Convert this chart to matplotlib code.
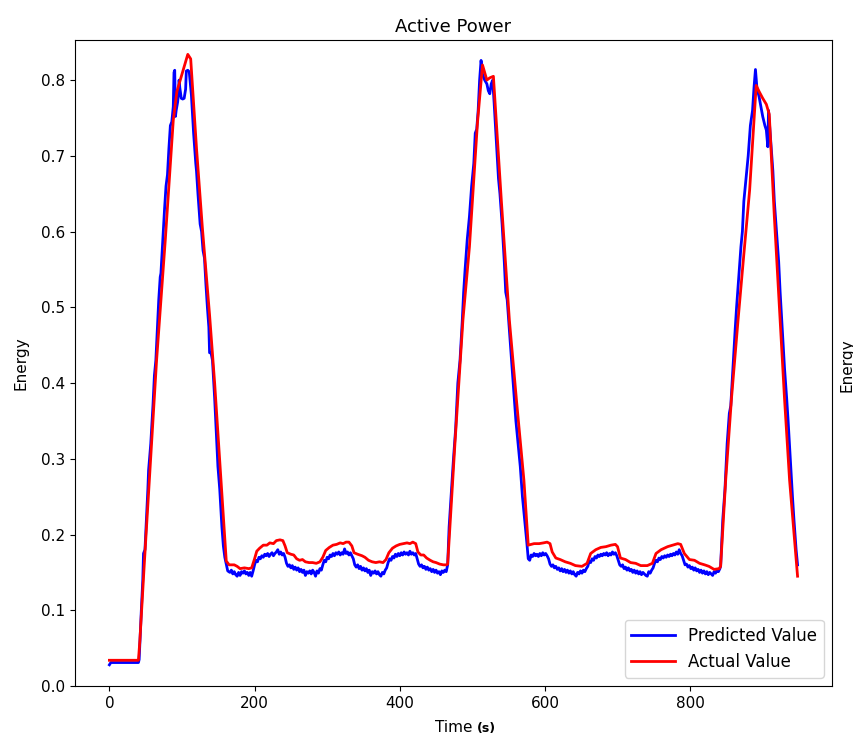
import matplotlib.pyplot as plt
import numpy as np

# Actual value (red)
t_actual = [0, 40, 42, 48, 55, 65, 77, 88, 93, 100, 108, 112, 120, 128, 138, 145, 152, 158, 161,
            165, 172, 176, 180, 186, 192, 196, 200, 203, 207, 212, 217, 221, 226, 230, 235, 239,
            242, 245, 250, 254, 258, 262, 266, 270, 275, 280, 285, 290, 294, 298, 303, 308, 313,
            318, 322, 326, 330, 334, 337, 342, 348, 352, 357, 362, 367, 372, 377, 381, 385, 390,
            395, 400, 405, 410, 414, 418, 422, 425, 429, 433, 437, 442, 446, 450, 455, 460, 464,
            466, 476, 487, 496, 507, 514, 520, 524, 529, 540, 551, 561, 571, 577,
            585, 592, 598, 603, 607, 610, 615, 621, 628, 635, 642, 651, 658, 663, 670, 677, 684,
            691, 697, 700, 704, 711, 718, 725, 732, 741, 748, 753, 760, 769, 776, 783, 787, 792,
            799, 806, 813, 820, 826, 833, 840,
            842, 849, 857, 866, 874, 882, 891, 895, 900, 905, 909, 916, 923, 930, 937, 948]
actual = [0.034, 0.034, 0.06, 0.16, 0.272, 0.43, 0.589, 0.747, 0.785, 0.808, 0.834, 0.828, 0.71,
          0.606, 0.49, 0.40, 0.298, 0.21, 0.165,
          0.160, 0.160, 0.158, 0.155, 0.156, 0.155, 0.156, 0.168, 0.178, 0.182, 0.186, 0.186,
          0.189, 0.188, 0.192, 0.193, 0.192, 0.185, 0.176, 0.174, 0.173, 0.168, 0.166, 0.167,
          0.164, 0.163, 0.163, 0.162, 0.164, 0.170, 0.179, 0.183, 0.186, 0.187, 0.189, 0.188,
          0.190, 0.190, 0.185, 0.176, 0.174, 0.172, 0.170, 0.166, 0.164, 0.163, 0.164, 0.163,
          0.167, 0.176, 0.182, 0.185, 0.187, 0.188, 0.189, 0.188, 0.190, 0.188, 0.177, 0.173,
          0.173, 0.169, 0.166, 0.164, 0.163, 0.161, 0.160, 0.160,
          0.161, 0.32, 0.483, 0.58, 0.743, 0.820, 0.800, 0.803, 0.805, 0.64, 0.483, 0.375,
          0.272, 0.186,
          0.188, 0.188, 0.189, 0.190, 0.188, 0.177, 0.169, 0.167, 0.164, 0.162, 0.159, 0.158,
          0.162, 0.175, 0.180, 0.183, 0.184, 0.186, 0.187, 0.184, 0.169, 0.167, 0.163, 0.162,
          0.159, 0.159, 0.162, 0.175, 0.180, 0.184, 0.186, 0.188, 0.187, 0.175, 0.167, 0.166,
          0.162, 0.160, 0.158, 0.154, 0.155,
          0.158, 0.272, 0.38, 0.483, 0.57, 0.655, 0.793, 0.785, 0.776, 0.768, 0.755, 0.62,
          0.50, 0.38, 0.272, 0.145]

# Predicted value (blue)
t_pred = [0, 2, 40, 41, 44, 46, 47, 49, 51, 53, 54, 57, 60, 62, 64, 66, 68, 70, 71, 73, 76, 78,
          80, 82, 84, 86, 88, 89, 90, 91, 92, 94, 95, 96, 97, 99, 101, 103, 105, 106, 108, 110,
          112, 113, 116, 119, 120, 122, 125, 127, 129, 131, 133, 135, 137, 138, 140, 142, 145,
          147, 149.5, 152, 155, 157, 159, 162,
          163, 166, 168, 170, 172, 174, 176, 178, 180, 182, 184, 186, 188, 190, 192, 194, 196,
          198, 200, 202, 204, 206, 208, 210, 212, 214, 216, 218, 220, 222, 224, 226, 228, 230,
          232, 234, 236, 238, 240, 242, 244, 246, 248, 250, 252, 254, 256, 258, 260, 262, 264,
          266, 268, 270, 272, 274, 276, 278, 280, 282, 284, 286, 288, 290, 292, 294, 296, 298,
          300, 302, 304, 306, 308, 310, 312, 314, 316, 318, 320, 322, 324, 326, 328, 330, 332,
          334, 336, 338, 340, 342, 344, 346, 348, 350, 352, 354, 356, 358, 360, 362, 364, 366,
          368, 370, 372, 374, 376, 378, 380, 382, 384, 386, 388, 390, 392, 394, 396, 398, 400,
          402, 404, 406, 408, 410, 412, 414, 416, 418, 420, 422, 424, 426, 428, 430, 432, 434,
          436, 438, 440, 442, 444, 446, 448, 450, 452, 454, 456, 458, 460, 462, 464, 466,
          468, 472, 474, 477, 480, 483, 486, 488, 490, 493, 496, 499, 502, 504, 506, 508, 510,
          512, 514, 517, 520, 522, 524, 526, 528, 530, 533, 536, 538, 541, 544, 546, 548, 551,
          554, 557, 560, 563, 566, 569, 572, 575, 577,
          579, 581, 583, 585, 587, 589, 591, 593, 595, 597, 599, 601, 603, 605, 607, 609, 611,
          613, 615, 617, 619, 621, 623, 625, 627, 629, 631, 633, 635, 637, 639, 641, 643, 645,
          647, 649, 651, 653, 655, 657, 659, 661, 663, 665, 667, 669, 671, 673, 675, 677, 679,
          681, 683, 685, 687, 689, 691, 693, 695, 697, 699, 701, 703, 705, 707, 709, 711, 713,
          715, 717, 719, 721, 723, 725, 727, 729, 731, 733, 735, 737, 739, 741, 743, 745, 747,
          749, 751, 753, 755, 757, 759, 761, 763, 765, 767, 769, 771, 773, 775, 777, 779, 781,
          783, 785, 787, 789, 791, 793, 795, 797, 799, 801, 803, 805, 807, 809, 811, 813, 815,
          817, 819, 821, 823, 825, 827, 829, 831, 833, 835, 837, 839, 841, 842,
          845, 848, 851, 854, 856, 859, 862, 864, 867, 870, 872, 874, 877, 880, 883, 886, 888,
          890, 892, 895, 898, 900, 903, 905, 907, 908, 911, 914, 916, 919, 922, 924, 927, 930,
          933, 935, 938, 941, 943, 946, 948]
pred = [0.028, 0.031, 0.031, 0.035, 0.10, 0.14, 0.175, 0.18, 0.22, 0.26, 0.285, 0.32, 0.37, 0.41,
        0.43, 0.47, 0.51, 0.54, 0.545, 0.58, 0.63, 0.66, 0.675, 0.71, 0.74, 0.745, 0.765, 0.81,
        0.813, 0.752, 0.76, 0.771, 0.78, 0.80, 0.79, 0.776, 0.775, 0.776, 0.788, 0.812, 0.813,
        0.811, 0.79, 0.78, 0.73, 0.69, 0.68, 0.65, 0.61, 0.60, 0.575, 0.565, 0.53, 0.50, 0.474,
        0.44, 0.44, 0.43, 0.38, 0.34, 0.29, 0.26, 0.21, 0.185, 0.17, 0.156,
        0.152, 0.150, 0.153, 0.148, 0.151, 0.147, 0.145, 0.150, 0.146, 0.151, 0.149, 0.152,
        0.148, 0.150, 0.146, 0.150, 0.145, 0.152, 0.160, 0.166, 0.164, 0.170, 0.168, 0.172,
        0.170, 0.174, 0.172, 0.175, 0.171, 0.174, 0.176, 0.172, 0.175, 0.177, 0.180, 0.174,
        0.177, 0.173, 0.175, 0.170, 0.162, 0.158, 0.160, 0.156, 0.159, 0.154, 0.157, 0.153,
        0.156, 0.151, 0.154, 0.150, 0.153, 0.146, 0.151, 0.149, 0.152, 0.148, 0.153, 0.150,
        0.145, 0.152, 0.149, 0.155, 0.153, 0.160, 0.166, 0.164, 0.170, 0.168, 0.173, 0.171,
        0.175, 0.172, 0.176, 0.174, 0.177, 0.173, 0.176, 0.174, 0.181, 0.175, 0.177, 0.173,
        0.176, 0.172, 0.168, 0.160, 0.157, 0.160, 0.155, 0.158, 0.153, 0.156, 0.152, 0.155,
        0.150, 0.153, 0.146, 0.151, 0.149, 0.152, 0.148, 0.151, 0.147, 0.145, 0.150, 0.148,
        0.153, 0.156, 0.163, 0.168, 0.166, 0.171, 0.169, 0.174, 0.171, 0.175, 0.172, 0.176,
        0.173, 0.177, 0.174, 0.176, 0.173, 0.178, 0.174, 0.176, 0.173, 0.175, 0.168, 0.161,
        0.158, 0.160, 0.156, 0.158, 0.154, 0.157, 0.153, 0.155, 0.151, 0.154, 0.150, 0.153,
        0.149, 0.151, 0.147, 0.152, 0.150, 0.153, 0.151, 0.160,
        0.21, 0.27, 0.30, 0.34, 0.40, 0.43, 0.48, 0.52, 0.55, 0.59, 0.62, 0.66, 0.69, 0.73,
        0.735, 0.76, 0.80, 0.826, 0.808, 0.80, 0.795, 0.786, 0.782, 0.795, 0.80, 0.77, 0.72,
        0.67, 0.65, 0.61, 0.56, 0.52, 0.51, 0.47, 0.43, 0.39, 0.35, 0.32, 0.29, 0.25, 0.22,
        0.19, 0.168,
        0.166, 0.173, 0.171, 0.175, 0.172, 0.174, 0.171, 0.175, 0.172, 0.176, 0.173, 0.175,
        0.172, 0.168, 0.161, 0.158, 0.160, 0.156, 0.158, 0.154, 0.156, 0.152, 0.155, 0.151,
        0.154, 0.150, 0.153, 0.149, 0.152, 0.148, 0.151, 0.147, 0.145, 0.150, 0.148, 0.152,
        0.149, 0.153, 0.151, 0.155, 0.158, 0.165, 0.163, 0.168, 0.166, 0.171, 0.169, 0.173,
        0.171, 0.174, 0.172, 0.175, 0.173, 0.176, 0.172, 0.175, 0.173, 0.177, 0.174, 0.176,
        0.172, 0.166, 0.160, 0.158, 0.160, 0.155, 0.157, 0.153, 0.156, 0.152, 0.154, 0.150,
        0.153, 0.149, 0.152, 0.148, 0.151, 0.147, 0.150, 0.148, 0.146, 0.145, 0.151, 0.149,
        0.153, 0.156, 0.162, 0.166, 0.164, 0.169, 0.167, 0.171, 0.169, 0.172, 0.170, 0.173,
        0.171, 0.174, 0.172, 0.175, 0.173, 0.177, 0.174, 0.180, 0.175, 0.172, 0.166, 0.160,
        0.161, 0.157, 0.159, 0.155, 0.157, 0.153, 0.156, 0.152, 0.154, 0.150, 0.153, 0.149,
        0.152, 0.148, 0.151, 0.147, 0.150, 0.148, 0.146, 0.151, 0.149, 0.153, 0.151, 0.155,
        0.158,
        0.22, 0.26, 0.32, 0.36, 0.37, 0.42, 0.47, 0.50, 0.54, 0.58, 0.60, 0.64, 0.67, 0.70,
        0.74, 0.76, 0.79, 0.814, 0.79, 0.778, 0.762, 0.752, 0.74, 0.734, 0.712, 0.76, 0.72,
        0.68, 0.64, 0.60, 0.56, 0.52, 0.47, 0.42, 0.38, 0.35, 0.30, 0.25, 0.22, 0.18, 0.16]

y_ticks = [0.0, 0.1, 0.2, 0.3, 0.4, 0.5, 0.6, 0.7, 0.8]
x_ticks = [0, 200, 400, 600, 800]

fig = plt.figure(figsize=(8.54, 7.36), dpi=100)
ax = fig.add_axes([0.0878, 0.0679, 0.8864, 0.8778])

ax.plot(t_pred, pred, color='blue', lw=2, label='Predicted Value')
ax.plot(t_actual, actual, color='red', lw=2, label='Actual Value')

ax.set_ylim(0, 0.853)
ax.set_yticks(y_ticks)
ax.set_xticks(x_ticks)
ax.tick_params(labelsize=11)

ax.set_title('Active Power', fontsize=13)
ax.set_ylabel('Energy', fontsize=11, labelpad=9)
ax.set_xlabel('Time', fontsize=11, labelpad=7)
ax.annotate('(s)', xy=(1, 0), xycoords=ax.xaxis.label, xytext=(3, 0),
            textcoords='offset points', fontsize=9, fontweight='bold', va='bottom')
ax.legend(loc='lower right', fontsize=12, handlelength=2.6)

# ylabel of the neighbouring panel, cut by the figure edge
fig.text(0.9836, 0.504, 'Energy', rotation=90, ha='left', va='center', fontsize=11)

fig.savefig('out.png', dpi=100)
